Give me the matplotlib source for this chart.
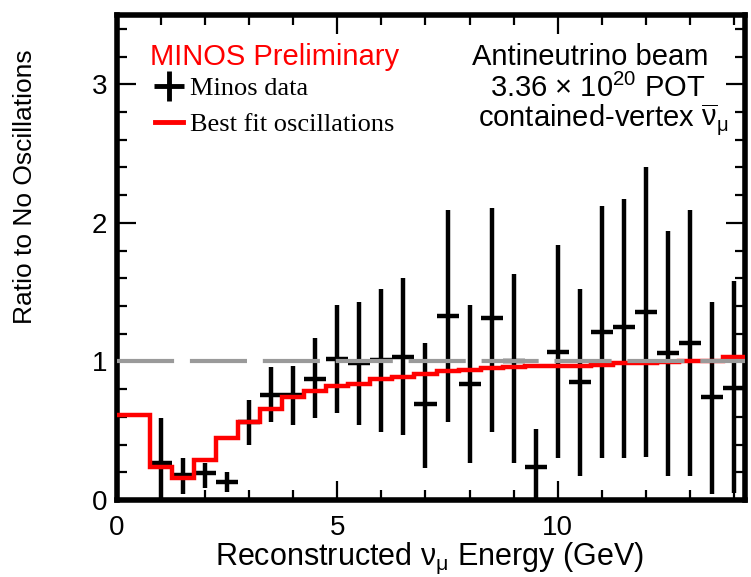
import matplotlib
matplotlib.use("Agg")
import matplotlib.pyplot as plt
from matplotlib.lines import Line2D
from matplotlib.ticker import MultipleLocator

plt.rcParams['font.family'] = ['Liberation Sans', 'DejaVu Sans']
plt.rcParams['mathtext.fontset'] = 'custom'
plt.rcParams['mathtext.rm'] = 'Liberation Sans'
plt.rcParams['mathtext.it'] = 'Liberation Sans:italic'

# best fit oscillations / no oscillations, per reconstructed energy bin (GeV)
bin_edges = [0.0, 0.75, 1.25, 1.75, 2.25, 2.75, 3.25, 3.75, 4.25, 4.75, 5.25,
             5.75, 6.25, 6.75, 7.25, 7.75, 8.25, 8.75, 9.25, 9.75, 10.25,
             10.75, 11.25, 11.75, 12.25, 12.75, 13.25, 13.75, 14.25]
fit_ratio = [0.61, 0.24, 0.16, 0.29, 0.45, 0.56, 0.66, 0.74, 0.79, 0.82,
             0.84, 0.87, 0.89, 0.91, 0.93, 0.94, 0.95, 0.96, 0.965, 0.97,
             0.97, 0.975, 0.99, 0.99, 0.995, 1.0, 1.0, 1.03]

# MINOS data points
energy = [1.0, 1.5, 2.0, 2.5, 3.0, 3.5, 4.0, 4.5, 5.0, 5.5, 6.0, 6.5, 7.0,
          7.5, 8.0, 8.5, 9.0, 9.5, 10.0, 10.5, 11.0, 11.5, 12.0, 12.5, 13.0,
          13.5, 14.0]
half_bin = 0.25
data_ratio = [0.27, 0.18, 0.195, 0.13, 0.56, 0.76, 0.76, 0.87, 1.02, 0.99,
              1.01, 1.03, 0.69, 1.33, 0.84, 1.31, 1.0, 0.24, 1.07, 0.85,
              1.21, 1.25, 1.36, 1.06, 1.13, 0.74, 0.81]
data_upper = [0.59, 0.30, 0.27, 0.20, 0.72, 0.96, 0.97, 1.17, 1.41, 1.43,
              1.52, 1.60, 1.13, 2.09, 1.41, 2.11, 1.63, 0.51, 1.84, 1.52,
              2.12, 2.17, 2.40, 1.94, 2.09, 1.43, 1.58]
data_lower = [0.0, 0.04, 0.09, 0.06, 0.40, 0.56, 0.54, 0.59, 0.63, 0.54,
              0.49, 0.47, 0.23, 0.56, 0.27, 0.49, 0.27, 0.0, 0.30, 0.17,
              0.30, 0.30, 0.31, 0.17, 0.17, 0.04, 0.05]

yerr = [[r - lo for r, lo in zip(data_ratio, data_lower)],
        [hi - r for r, hi in zip(data_ratio, data_upper)]]

fig = plt.figure(figsize=(7.51, 5.77), dpi=100)
ax = fig.add_axes([0.1558, 0.1334, 0.8362, 0.8406])

ax.errorbar(energy, data_ratio, xerr=half_bin, yerr=yerr, fmt='none',
            ecolor='black', elinewidth=3.2, capsize=0, zorder=2)
ax.stairs(fit_ratio, bin_edges, baseline=None, color='red', lw=3.2, zorder=3)
ax.axhline(1.0, color='#9a9a9a', lw=3, dashes=(13.7, 3.8),
           dash_capstyle='butt', zorder=4)

ax.set_xlim(0, 14.25)
ax.set_ylim(0, 3.5)
ax.xaxis.set_major_locator(MultipleLocator(5))
ax.xaxis.set_minor_locator(MultipleLocator(1))
ax.yaxis.set_major_locator(MultipleLocator(1))
ax.yaxis.set_minor_locator(MultipleLocator(0.2))
ax.tick_params(which='both', direction='in', top=True, right=True,
               labelsize=20, width=1.6)
ax.tick_params(which='major', length=14, pad=7)
ax.tick_params(axis='x', which='major', pad=11)
ax.tick_params(which='minor', length=7)
for s in ax.spines.values():
    s.set_linewidth(4)

ax.set_xlabel(r'Reconstructed $\mathregular{ν_{μ}}$ Energy (GeV)', fontsize=22)
ax.xaxis.set_label_coords(0.497, -0.085)
ax.set_ylabel('Ratio to No Oscillations', fontsize=19)
ax.yaxis.set_label_coords(-0.128, 0.645)

ax.text(0.0525, 0.897, 'MINOS Preliminary', color='red', fontsize=21,
        transform=ax.transAxes, va='baseline')
ax.text(0.753, 0.897, 'Antineutrino beam', fontsize=21, ha='center',
        va='baseline', transform=ax.transAxes)
ax.text(0.766, 0.831, r'3.36 $\mathregular{×}$ 10$\mathregular{^{20}}$ POT',
        fontsize=21, ha='center', va='baseline', transform=ax.transAxes)
ax.text(0.774, 0.771, r'contained-vertex $\mathregular{\overline{ν}_{μ}}$',
        fontsize=21, ha='center', va='baseline', transform=ax.transAxes)

handles = [Line2D([], [], color='black', marker='+', markersize=21,
                  mew=3.5, linestyle='none'),
           Line2D([], [], color='red', lw=3.5)]
ax.legend(handles, ['Minos data', 'Best fit oscillations'], loc='upper left',
          bbox_to_anchor=(0.06, 0.873), frameon=False, borderpad=0,
          borderaxespad=0, handlelength=1.07, handletextpad=0.28,
          labelspacing=0.48, prop={'family': 'Liberation Serif', 'size': 19})

fig.savefig('out.png', dpi=100)
